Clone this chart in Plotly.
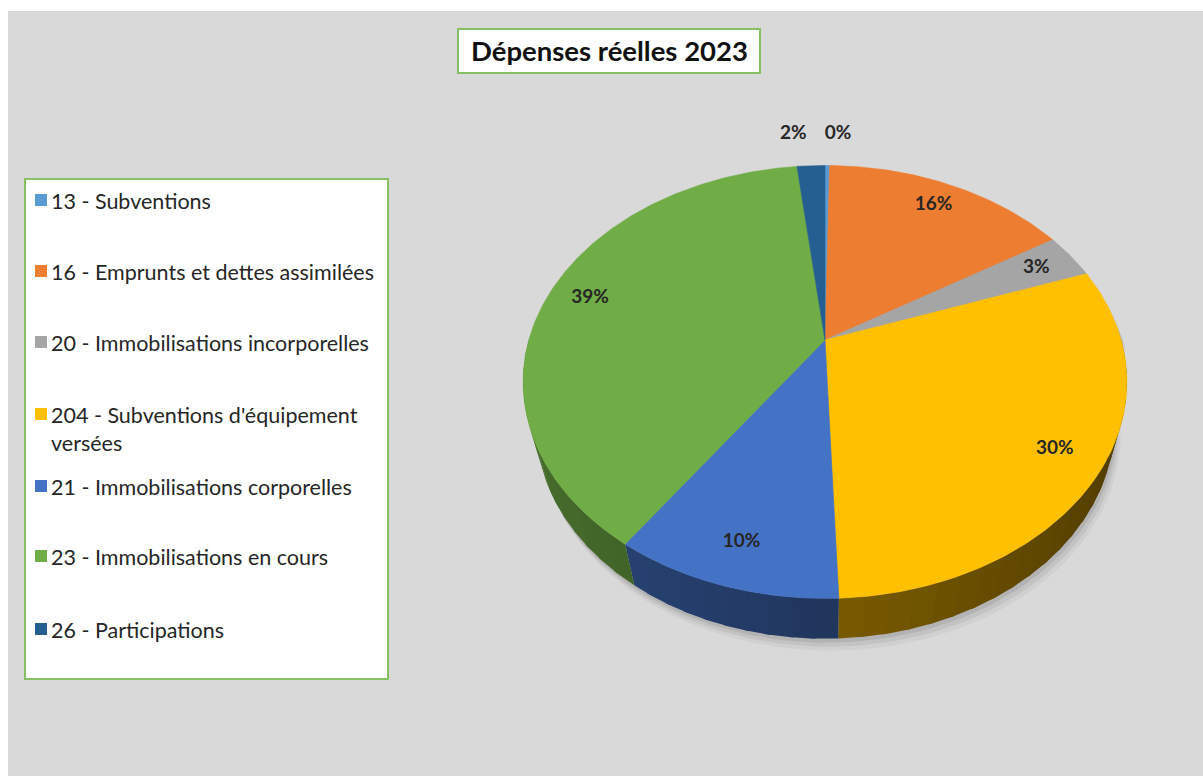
import numpy as np
import plotly.graph_objects as go

# ---- data ----
categories = [
    "13 - Subventions",
    "16 - Emprunts et dettes assimilées",
    "20 - Immobilisations incorporelles",
    "204 - Subventions d'équipement<br>versées",
    "21 - Immobilisations corporelles",
    "23 - Immobilisations en cours",
    "26 - Participations",
]
shares = [0.3, 15.8, 3.4, 29.9, 10.2, 38.6, 1.8]
colors = ["#5B9BD5", "#ED7D31", "#A5A5A5", "#FFC000", "#4472C4", "#70AD47", "#255E91"]
title = "Dépenses réelles 2023"

W, H_PX = 1203, 776
FONT = "Lato"

# ---- perspective projection of a tilted disc (3-D pie look) ----
FOCAL, DIST, TILT, THICK = 1087.0, 3.67, np.radians(44.7), 0.212
CX, CY = 825.0, 340.0
S, C = np.sin(TILT), np.cos(TILT)


def project(theta, r=1.0, w=0.0):
    u = r * np.sin(theta)
    v = r * np.cos(theta)
    depth = DIST + v * C - w * S
    return CX + FOCAL * u / depth, CY - FOCAL * (v * S + w * C) / depth


def shade(hex_color, f):
    h = hex_color.lstrip("#")
    rgb = [int(h[i:i + 2], 16) for i in (0, 2, 4)]
    return "rgb({},{},{})".format(*[int(min(255, c * f)) for c in rgb])


vals = np.array(shares, dtype=float)
frac = vals / vals.sum()
bounds = np.concatenate([[0.0], np.cumsum(frac)]) * 2 * np.pi  # clockwise from 12 o'clock
pct_text = [f"{round(p * 100):.0f}%" for p in frac]

fig = go.Figure()

# soft shadow under the solid
full = np.linspace(0, 2 * np.pi, 240)
tx, ty = project(full)
bx, by = project(full, w=-THICK)
for off, alpha in [(12, 0.04), (8, 0.06), (4, 0.08)]:
    sx = np.where(np.cos(full) < 0, bx, tx) + off * 0.5
    sy = np.where(np.cos(full) < 0, by, ty) + off
    fig.add_trace(go.Scatter(x=sx, y=sy, mode="lines", fill="toself",
                             fillcolor=f"rgba(0,0,0,{alpha})", line=dict(width=0),
                             hoverinfo="skip", showlegend=False))

# side walls (front half only), lit from the left; chunks overlap to avoid seams
STEP = np.radians(4)
OVER = np.radians(0.8)
for i, col in enumerate(colors):
    a0 = max(bounds[i], np.pi / 2)
    a1 = min(bounds[i + 1], 3 * np.pi / 2)
    if a1 <= a0:
        continue
    n_chunks = max(1, int(np.ceil((a1 - a0) / STEP)))
    edges = np.linspace(a0, a1, n_chunks + 1)
    for k, (c0, c1) in enumerate(zip(edges[:-1], edges[1:])):
        hi = c1 + OVER if k < n_chunks - 1 else c1
        th = np.linspace(c0, hi, 6)
        x_top, y_top = project(th)
        x_bot, y_bot = project(th[::-1], w=-THICK)
        side = shade(col, 0.48 - 0.17 * np.sin((c0 + c1) / 2))
        fig.add_trace(go.Scatter(x=np.concatenate([x_top, x_bot]), y=np.concatenate([y_top, y_bot]),
                                 mode="lines", fill="toself", fillcolor=side,
                                 line=dict(width=0),
                                 hoverinfo="skip", showlegend=False))

# top faces
for i, col in enumerate(colors):
    a0, a1 = bounds[i], bounds[i + 1]
    th = np.linspace(a0, a1, max(4, int((a1 - a0) / 0.01)))
    xs, ys = project(th)
    fig.add_trace(go.Scatter(x=np.concatenate([[CX], xs, [CX]]), y=np.concatenate([[CY], ys, [CY]]),
                             mode="lines", fill="toself", fillcolor=col,
                             line=dict(width=0.6, color=col),
                             name=categories[i].replace("<br>", " "),
                             text=pct_text[i], hoverinfo="name+text", showlegend=False))

# percentage labels
lx, ly, lpos = [], [], []
for i in range(len(shares)):
    mid = (bounds[i] + bounds[i + 1]) / 2
    small = frac[i] < 0.025
    x, y = project(mid, r=1.22 if small else 0.85)
    lx.append(x + (-2 if small and mid > np.pi else (-3 if small else 0)))
    ly.append(y)
    if small:
        lpos.append("middle left" if mid > np.pi else "middle right")
    else:
        lpos.append("middle center")
fig.add_trace(go.Scatter(x=lx, y=ly, mode="text", text=pct_text, textposition=lpos,
                         textfont=dict(family=FONT, size=19, color="#262626", weight="bold"),
                         hoverinfo="skip", showlegend=False))

# ---- frame, title box and legend box ----
shapes = [
    dict(type="rect", xref="x", yref="y", x0=8, y0=11, x1=W, y1=H_PX,
         fillcolor="#D9D9D9", line=dict(width=0), layer="below"),
    dict(type="rect", xref="x", yref="y", x0=458, y0=29, x1=760, y1=73,
         fillcolor="white", line=dict(color="#86C062", width=2), layer="below"),
    dict(type="rect", xref="x", yref="y", x0=25, y0=179, x1=388, y1=679,
         fillcolor="white", line=dict(color="#86C062", width=2), layer="below"),
]
annotations = [
    dict(x=609, y=50, xref="x", yref="y", text=f"<b>{title}</b>", showarrow=False,
         font=dict(family=FONT, size=27.5, color="#111111"), xanchor="center", yanchor="middle"),
]
legend_y = [200, 271, 342, 414, 486, 556, 629]
for lab, col, yy in zip(categories, colors, legend_y):
    shapes.append(dict(type="rect", xref="x", yref="y", x0=35, x1=47, y0=yy - 6, y1=yy + 6,
                       fillcolor=col, line=dict(width=0)))
    annotations.append(dict(x=49, y=yy - 14, xref="x", yref="y", text=lab, showarrow=False,
                            xanchor="left", yanchor="top", align="left",
                            font=dict(family=FONT, size=21.5, color="#262626")))

fig.update_layout(
    width=W, height=H_PX, autosize=False,
    margin=dict(l=0, r=0, t=0, b=0),
    paper_bgcolor="white", plot_bgcolor="rgba(0,0,0,0)",
    xaxis=dict(range=[0, W], visible=False, fixedrange=True),
    yaxis=dict(range=[H_PX, 0], visible=False, fixedrange=True),
    shapes=shapes, annotations=annotations, showlegend=False,
)

fig.write_html("out.html")
